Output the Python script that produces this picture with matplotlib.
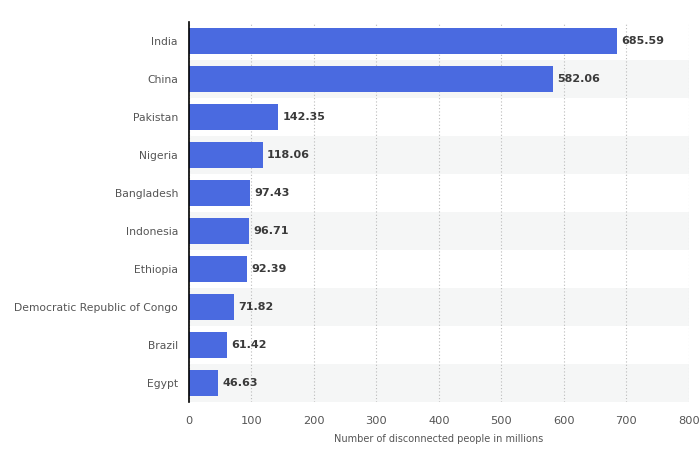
import matplotlib.pyplot as plt

# data
countries = ['India', 'China', 'Pakistan', 'Nigeria', 'Bangladesh', 'Indonesia',
             'Ethiopia', 'Democratic Republic of Congo', 'Brazil', 'Egypt']
people = [685.59, 582.06, 142.35, 118.06, 97.43, 96.71, 92.39, 71.82, 61.42, 46.63]
x_ticks = [0, 100, 200, 300, 400, 500, 600, 700, 800]

fig = plt.figure(figsize=(7, 4.57), dpi=100)
ax = fig.add_axes([0.27, 0.1204, 0.714, 0.8315])

n = len(countries)
ypos = list(range(n))

# alternating row bands
for i in ypos:
    if i % 2 == 1:
        ax.axhspan(i - 0.5, i + 0.5, color='#f5f6f6', zorder=0, lw=0)

ax.barh(ypos, people, height=0.68, color='#4a6ae0', zorder=3)

for y, v in zip(ypos, people):
    ax.text(v + 7, y, f'{v:.2f}', va='center', ha='left', fontsize=8,
            color='#3a3a3a', fontweight='bold', zorder=4)

ax.set_xlim(0, 800)
ax.set_ylim(n - 0.5, -0.5)
ax.set_xticks(x_ticks)
ax.set_yticks(ypos)
ax.set_yticklabels(countries, fontsize=7.75)
ax.tick_params(axis='both', length=0, colors='#555555')
ax.tick_params(axis='x', pad=10, labelsize=8.2)
ax.tick_params(axis='y', pad=8)

ax.grid(axis='x', linestyle=(0, (1, 2)), color='#bbbbbb', linewidth=0.8, zorder=1)
ax.set_axisbelow(True)
for s in ['top', 'right', 'bottom']:
    ax.spines[s].set_visible(False)
ax.spines['left'].set_color('black')
ax.spines['left'].set_linewidth(1.2)
ax.spines['left'].set_zorder(5)

ax.set_xlabel('Number of disconnected people in millions', fontsize=7, color='#555555', labelpad=5.5)

plt.savefig('out.png', dpi=100)
